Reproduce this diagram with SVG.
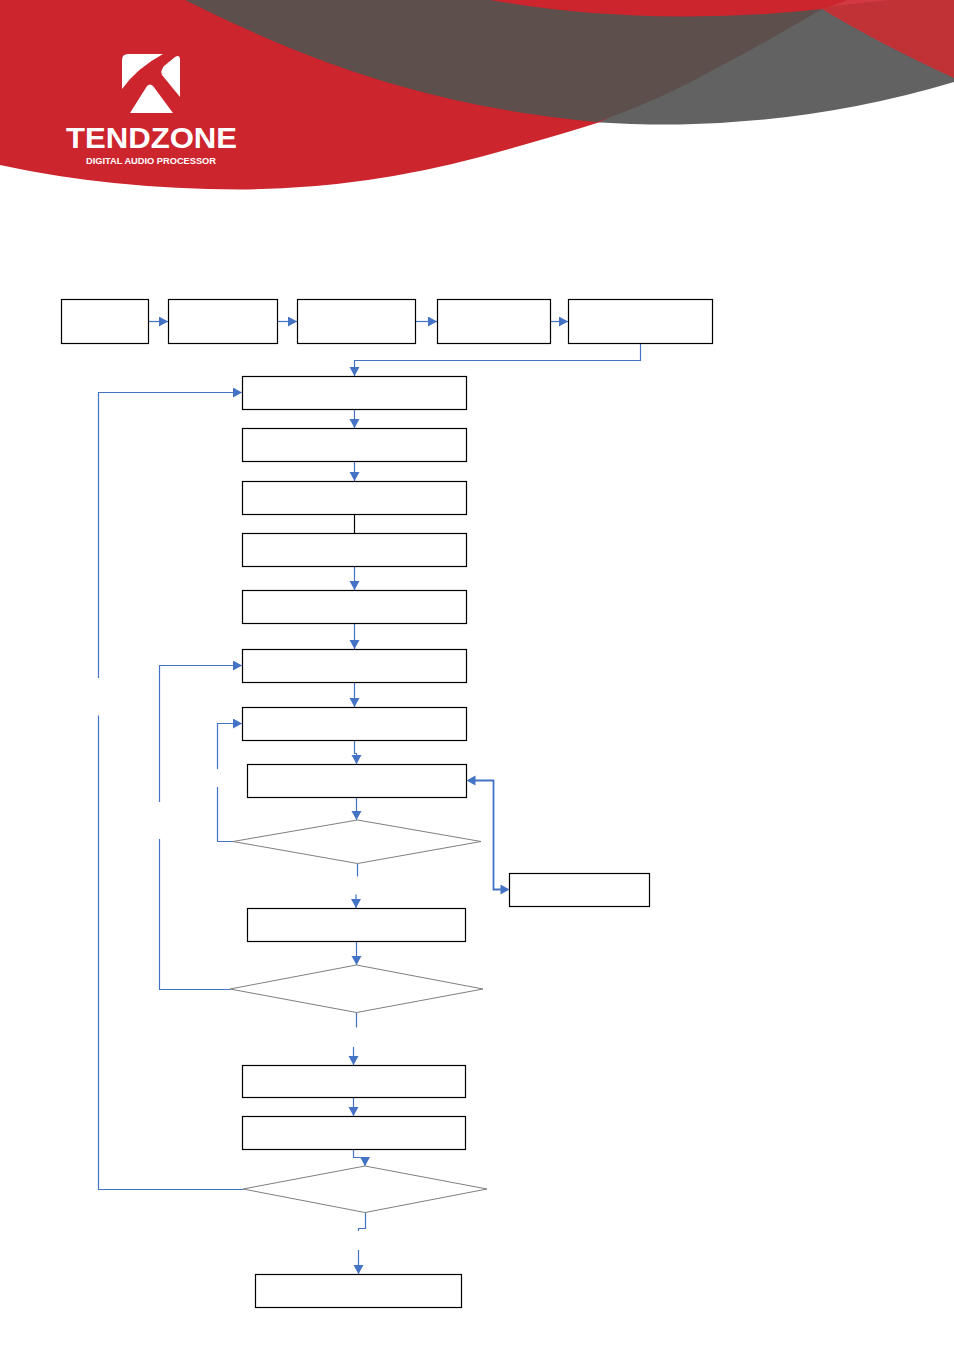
<svg xmlns="http://www.w3.org/2000/svg" width="954" height="1350" viewBox="0 0 954 1350">
<style>
.b{fill:#fff;stroke:#000;stroke-width:1.2}
.d{fill:#fff;stroke:#7f7f7f;stroke-width:1}
.c{fill:none;stroke:#4472c4;stroke-width:1.2;marker-end:url(#a)}
.n{fill:none;stroke:#4472c4;stroke-width:1.2}
.l{fill:#fff;font-family:"Liberation Sans",Arial,sans-serif;font-weight:700}
</style>
<defs>
<marker id="a" markerUnits="userSpaceOnUse" markerWidth="10" markerHeight="11" refX="9" refY="5" orient="auto"><path d="M0 0L9 5L0 10Z" fill="#4472c4"/></marker>
</defs>
<rect width="954" height="1350" fill="#fff"/>
<g id="header">
<path d="M590 122Q640 125 680 124.500Q820 122 954 82V0H700Z" fill="#626262"/>
<path d="M0 0H860L822 9L600 122Q560 135 480 157Q360 189 240 189.500Q110 189 0 165Z" fill="#cc252e"/>
<path d="M185 0Q300 58 400 86Q490 112 597 122Q660 100 713 70Q770 40 822 9Q750 17 680 16.500Q580 16 490 0Z" fill="#5d4f4c"/>
<path d="M822 9L848 0H954V78Q880 44 822 9Z" fill="#c13236"/>
<path d="M832 6L848 0H890Z" fill="#d23a43"/>
<path d="M122 60Q122 54 128 54H163Q137 68 122 89Z" fill="#fff"/>
<path d="M175 57Q180 54 180 60V97L162 75Q160 71 164 66Z" fill="#fff"/>
<path d="M130 113L147 86Q150 83 153 86L173 113Z" fill="#fff"/>
<text class="l" x="66" y="148" font-size="30" textLength="171" lengthAdjust="spacingAndGlyphs">TENDZONE</text>
<text class="l" x="86" y="163.500" font-size="9.800" textLength="130" lengthAdjust="spacingAndGlyphs">DIGITAL AUDIO PROCESSOR</text>
</g>
<g id="connectors">
<path class="c" d="M148.500 321.500H168"/>
<path class="c" d="M277.500 321.500H297"/>
<path class="c" d="M415.500 321.500H437"/>
<path class="c" d="M550.500 321.500H568"/>
<path class="c" d="M640.500 343.500V360.500H354.500V376"/>
<path class="c" d="M354.500 409.500V428"/>
<path class="c" d="M354.500 461.500V481"/>
<path d="M354.500 514.500V533.500" fill="none" stroke="#000" stroke-width="1.200"/>
<path class="c" d="M354.500 566.500V590"/>
<path class="c" d="M354.500 623.500V649"/>
<path class="c" d="M354.500 682.500V707"/>
<path class="c" d="M354.500 740.500V753.500H356.500V764"/>
<path class="c" d="M356.500 797.500V820"/>
<path class="n" d="M357.500 863.500V876.500"/>
<path class="c" d="M356 894.500V908"/>
<path class="c" d="M356.500 941.500V965"/>
<path class="n" d="M356.500 1012.500V1027.500"/>
<path class="c" d="M353.500 1047V1065"/>
<path class="c" d="M353.500 1097.500V1116"/>
<path class="c" d="M353.500 1149.500V1157.500H365V1166"/>
<path class="n" d="M365.500 1212.500V1228.500H358.500V1231"/>
<path class="c" d="M358.500 1250V1274"/>
<path class="n" d="M243 1189.500H98.500V715.500"/>
<path class="c" d="M98.500 678V392.500H242"/>
<path class="n" d="M230 989.500H159.500V839"/>
<path class="c" d="M159.500 802V665.500H242"/>
<path class="n" d="M233 841.500H217.500V787"/>
<path class="c" d="M217.500 769V723.500H242"/>
<path class="n" d="M474 780.500H493.500V889.500H502" style="stroke-width:1.800"/>
<path d="M466.500 780.500L475.500 775.500V785.500Z" fill="#4472c4"/>
<path d="M509.500 889.500L500.500 884.500V894.500Z" fill="#4472c4"/>
</g>
<g id="n1"><rect class="b" x="61.500" y="299.500" width="87" height="44"/></g>
<g id="n2"><rect class="b" x="168.500" y="299.500" width="109" height="44"/></g>
<g id="n3"><rect class="b" x="297.500" y="299.500" width="118" height="44"/></g>
<g id="n4"><rect class="b" x="437.500" y="299.500" width="113" height="44"/></g>
<g id="n5"><rect class="b" x="568.500" y="299.500" width="144" height="44"/></g>
<g id="n6"><rect class="b" x="242.500" y="376.500" width="224" height="33"/></g>
<g id="n7"><rect class="b" x="242.500" y="428.500" width="224" height="33"/></g>
<g id="n8"><rect class="b" x="242.500" y="481.500" width="224" height="33"/></g>
<g id="n9"><rect class="b" x="242.500" y="533.500" width="224" height="33"/></g>
<g id="n10"><rect class="b" x="242.500" y="590.500" width="224" height="33"/></g>
<g id="n11"><rect class="b" x="242.500" y="649.500" width="224" height="33"/></g>
<g id="n12"><rect class="b" x="242.500" y="707.500" width="224" height="33"/></g>
<g id="n13"><rect class="b" x="247.500" y="764.500" width="219" height="33"/></g>
<g id="n14"><path class="d" d="M233 841.500L357.500 820L481 841.500L357.500 863.500Z"/></g>
<g id="n15"><rect class="b" x="509.500" y="873.500" width="140" height="33"/></g>
<g id="n16"><rect class="b" x="247.500" y="908.500" width="218" height="33"/></g>
<g id="n17"><path class="d" d="M230 989L356.500 965L483 989L356.500 1012.500Z"/></g>
<g id="n18"><rect class="b" x="242.500" y="1065.500" width="223" height="32"/></g>
<g id="n19"><rect class="b" x="242.500" y="1116.500" width="223" height="33"/></g>
<g id="n20"><path class="d" d="M243 1189L365 1166L487 1189L365 1212.500Z"/></g>
<g id="n21"><rect class="b" x="255.500" y="1274.500" width="206" height="33"/></g>
</svg>
